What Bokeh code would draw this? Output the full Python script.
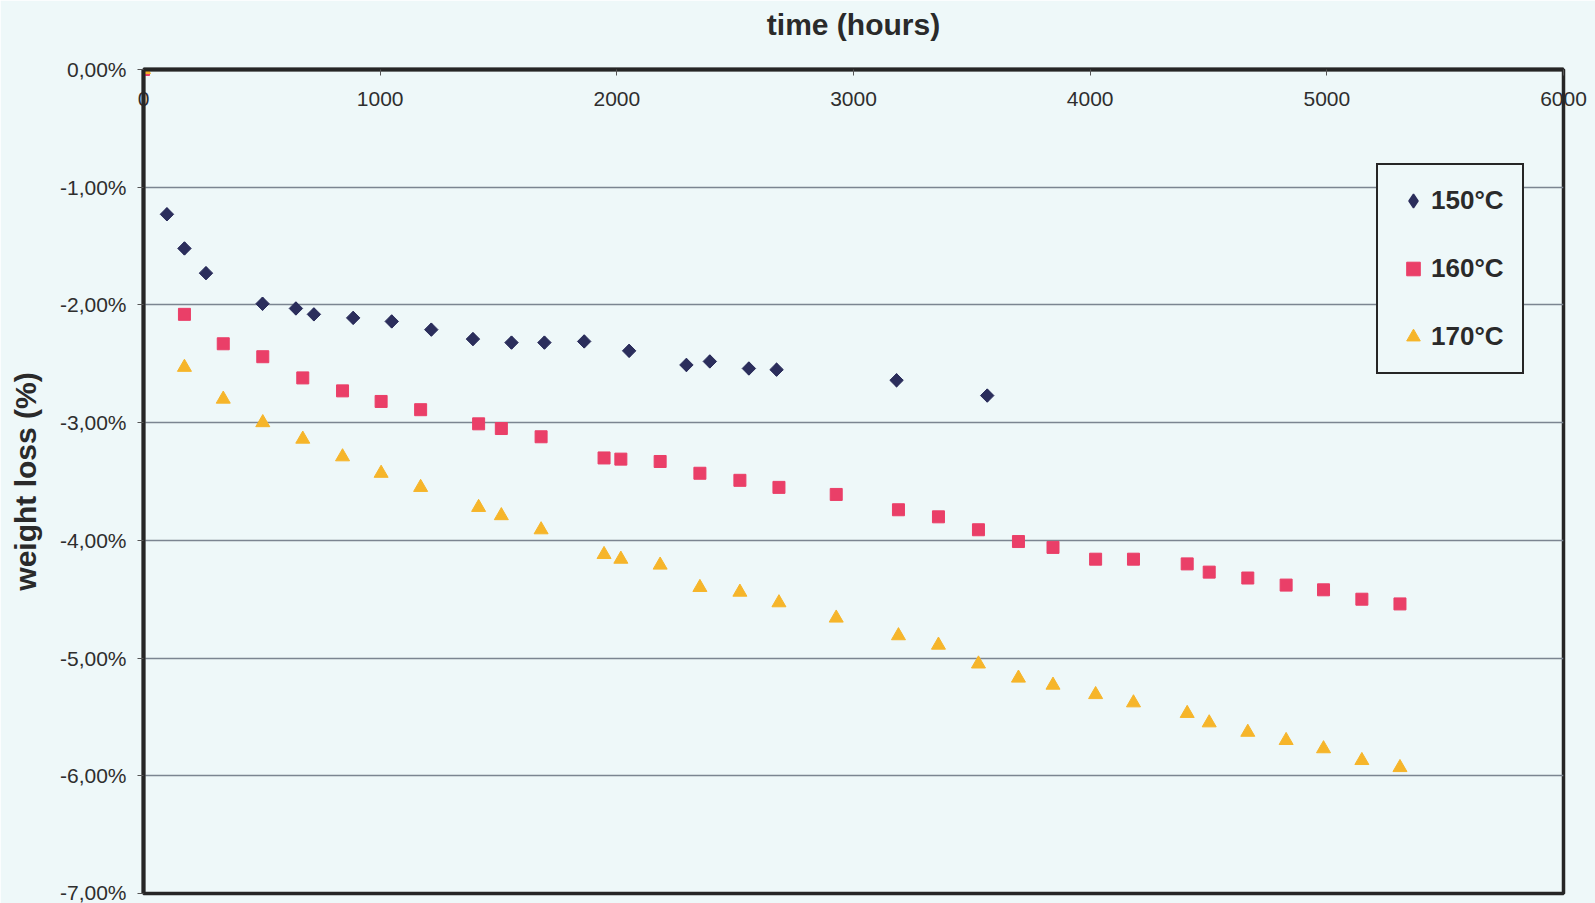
from bokeh.plotting import figure
from bokeh.models import (Range1d, FixedTicker, CustomJSTickFormatter, LinearAxis,
                          Legend, LegendItem, ColumnDataSource)
from bokeh.embed import file_html
from bokeh.resources import INLINE
import math

# --- data: weight loss (%) versus ageing time (hours) ---
hours_150 = [0, 99, 173, 264, 503, 644, 720, 886, 1049, 1216, 1392, 1555, 1694,
             1862, 2052, 2294, 2393, 2558, 2675, 3182, 3565]
loss_150 = [0.0, -1.23, -1.52, -1.73, -1.99, -2.03, -2.08, -2.11, -2.14, -2.21,
            -2.29, -2.32, -2.32, -2.31, -2.39, -2.51, -2.48, -2.54, -2.55, -2.64, -2.77]

hours_160_170 = [0, 173, 337, 504, 673, 841, 1004, 1171, 1416, 1512, 1680, 1946,
                 2017, 2183, 2351, 2520, 2685, 2927, 3190, 3359, 3528, 3697, 3843,
                 4023, 4183, 4410, 4503, 4666, 4828, 4986, 5148, 5309]
loss_160 = [0.0, -2.08, -2.33, -2.44, -2.62, -2.73, -2.82, -2.89, -3.01, -3.05,
            -3.12, -3.30, -3.31, -3.33, -3.43, -3.49, -3.55, -3.61, -3.74, -3.80,
            -3.91, -4.01, -4.06, -4.16, -4.16, -4.20, -4.27, -4.32, -4.38, -4.42,
            -4.50, -4.54]
loss_170 = [0.0, -2.53, -2.80, -3.00, -3.14, -3.29, -3.43, -3.55, -3.72, -3.79,
            -3.91, -4.12, -4.16, -4.21, -4.40, -4.44, -4.53, -4.66, -4.81, -4.89,
            -5.05, -5.17, -5.23, -5.31, -5.38, -5.47, -5.55, -5.63, -5.70, -5.77,
            -5.87, -5.93]

series_labels = ["150°C", "160°C", "170°C"]
x_ticks = [0, 1000, 2000, 3000, 4000, 5000, 6000]
y_ticks = [0, -1, -2, -3, -4, -5, -6, -7]

BG = "#eef8f9"
FONT = "Liberation Sans"
INK = "#2e2e2e"
NAVY = "#2b2e5c"
PINK = "#ea3f68"
AMBER = "#f6b52a"

p = figure(width=1595, height=903, output_backend="svg", toolbar_location=None,
           x_range=Range1d(0, 6000), y_range=Range1d(-7, 0),
           x_axis_location=None, y_axis_location=None,
           min_border_left=143, min_border_right=32, min_border_top=69,
           min_border_bottom=10)
p.background_fill_color = BG
p.border_fill_color = BG
p.outline_line_color = "#262626"
p.outline_line_width = 3.5
p.xgrid.visible = False

# time axis along the top edge, labels sitting just inside the frame
xaxis = LinearAxis(ticker=FixedTicker(ticks=x_ticks))
xaxis.axis_line_width = 4
xaxis.axis_line_color = "#262626"
xaxis.major_tick_in = 6
xaxis.major_tick_out = 0
xaxis.major_tick_line_color = "#555555"
xaxis.minor_tick_line_color = None
xaxis.major_label_standoff = -36
xaxis.major_label_text_font = FONT
xaxis.major_label_text_font_size = "21px"
xaxis.major_label_text_color = INK
xaxis.axis_label = "time (hours)"
xaxis.axis_label_text_font = FONT
xaxis.axis_label_text_font_size = "30px"
xaxis.axis_label_text_font_style = "bold"
xaxis.axis_label_text_color = "#2a2a2a"
xaxis.axis_label_standoff = 48
p.add_layout(xaxis, "above")

# weight loss axis on the left, percent with a decimal comma
yaxis = LinearAxis(ticker=FixedTicker(ticks=y_ticks))
yaxis.formatter = CustomJSTickFormatter(
    code="return tick.toFixed(2).replace('.', ',') + '%';")
yaxis.axis_line_width = 4
yaxis.axis_line_color = "#262626"
yaxis.major_tick_in = 0
yaxis.major_tick_out = 6
yaxis.major_tick_line_color = "#555555"
yaxis.minor_tick_line_color = None
yaxis.major_label_standoff = 11
yaxis.major_label_text_font = FONT
yaxis.major_label_text_font_size = "21px"
yaxis.major_label_text_color = INK
yaxis.axis_label = "weight loss (%)"
yaxis.axis_label_text_font = FONT
yaxis.axis_label_text_font_size = "30px"
yaxis.axis_label_text_font_style = "bold"
yaxis.axis_label_text_color = "#2a2a2a"
yaxis.axis_label_standoff = 15
p.add_layout(yaxis, "left")

p.ygrid.ticker = FixedTicker(ticks=y_ticks)
p.ygrid.grid_line_color = "#7b8591"
p.ygrid.grid_line_width = 1.3

src150 = ColumnDataSource(dict(x=hours_150, y=loss_150))
src160 = ColumnDataSource(dict(x=hours_160_170, y=loss_160))
src170 = ColumnDataSource(dict(x=hours_160_170, y=loss_170))

# diamond key for the 150 °C legend entry, hidden beneath the turned squares
key150 = p.scatter("x", "y", source=src150, marker="diamond", size=12,
                   fill_color=NAVY, line_color=NAVY, line_width=1.5)
# 150 °C points as squares turned on their corner
r150 = p.scatter("x", "y", source=src150, marker="square", angle=math.pi / 4,
                 size=9.5, fill_color=NAVY, line_color=NAVY)
r160 = p.scatter("x", "y", source=src160, marker="square", size=12,
                 fill_color=PINK, line_color=PINK)
r170 = p.scatter("x", "y", source=src170, marker="triangle", size=14,
                 fill_color=AMBER, line_color=AMBER)

legend = Legend(items=[LegendItem(label=series_labels[0], renderers=[key150]),
                       LegendItem(label=series_labels[1], renderers=[r160]),
                       LegendItem(label=series_labels[2], renderers=[r170])],
                location=(1233, 519), orientation="vertical",
                padding=18, spacing=33, label_height=35, glyph_height=35,
                glyph_width=34, label_standoff=1, margin=0,
                label_text_font=FONT, label_text_font_size="26px",
                label_text_font_style="bold", label_text_color="#2a2a2a",
                border_line_color="#262626", border_line_width=2.5,
                border_line_alpha=1.0,
                background_fill_color=BG, background_fill_alpha=1.0)
p.add_layout(legend, "center")

open("out.html", "w").write(file_html(p, INLINE))
